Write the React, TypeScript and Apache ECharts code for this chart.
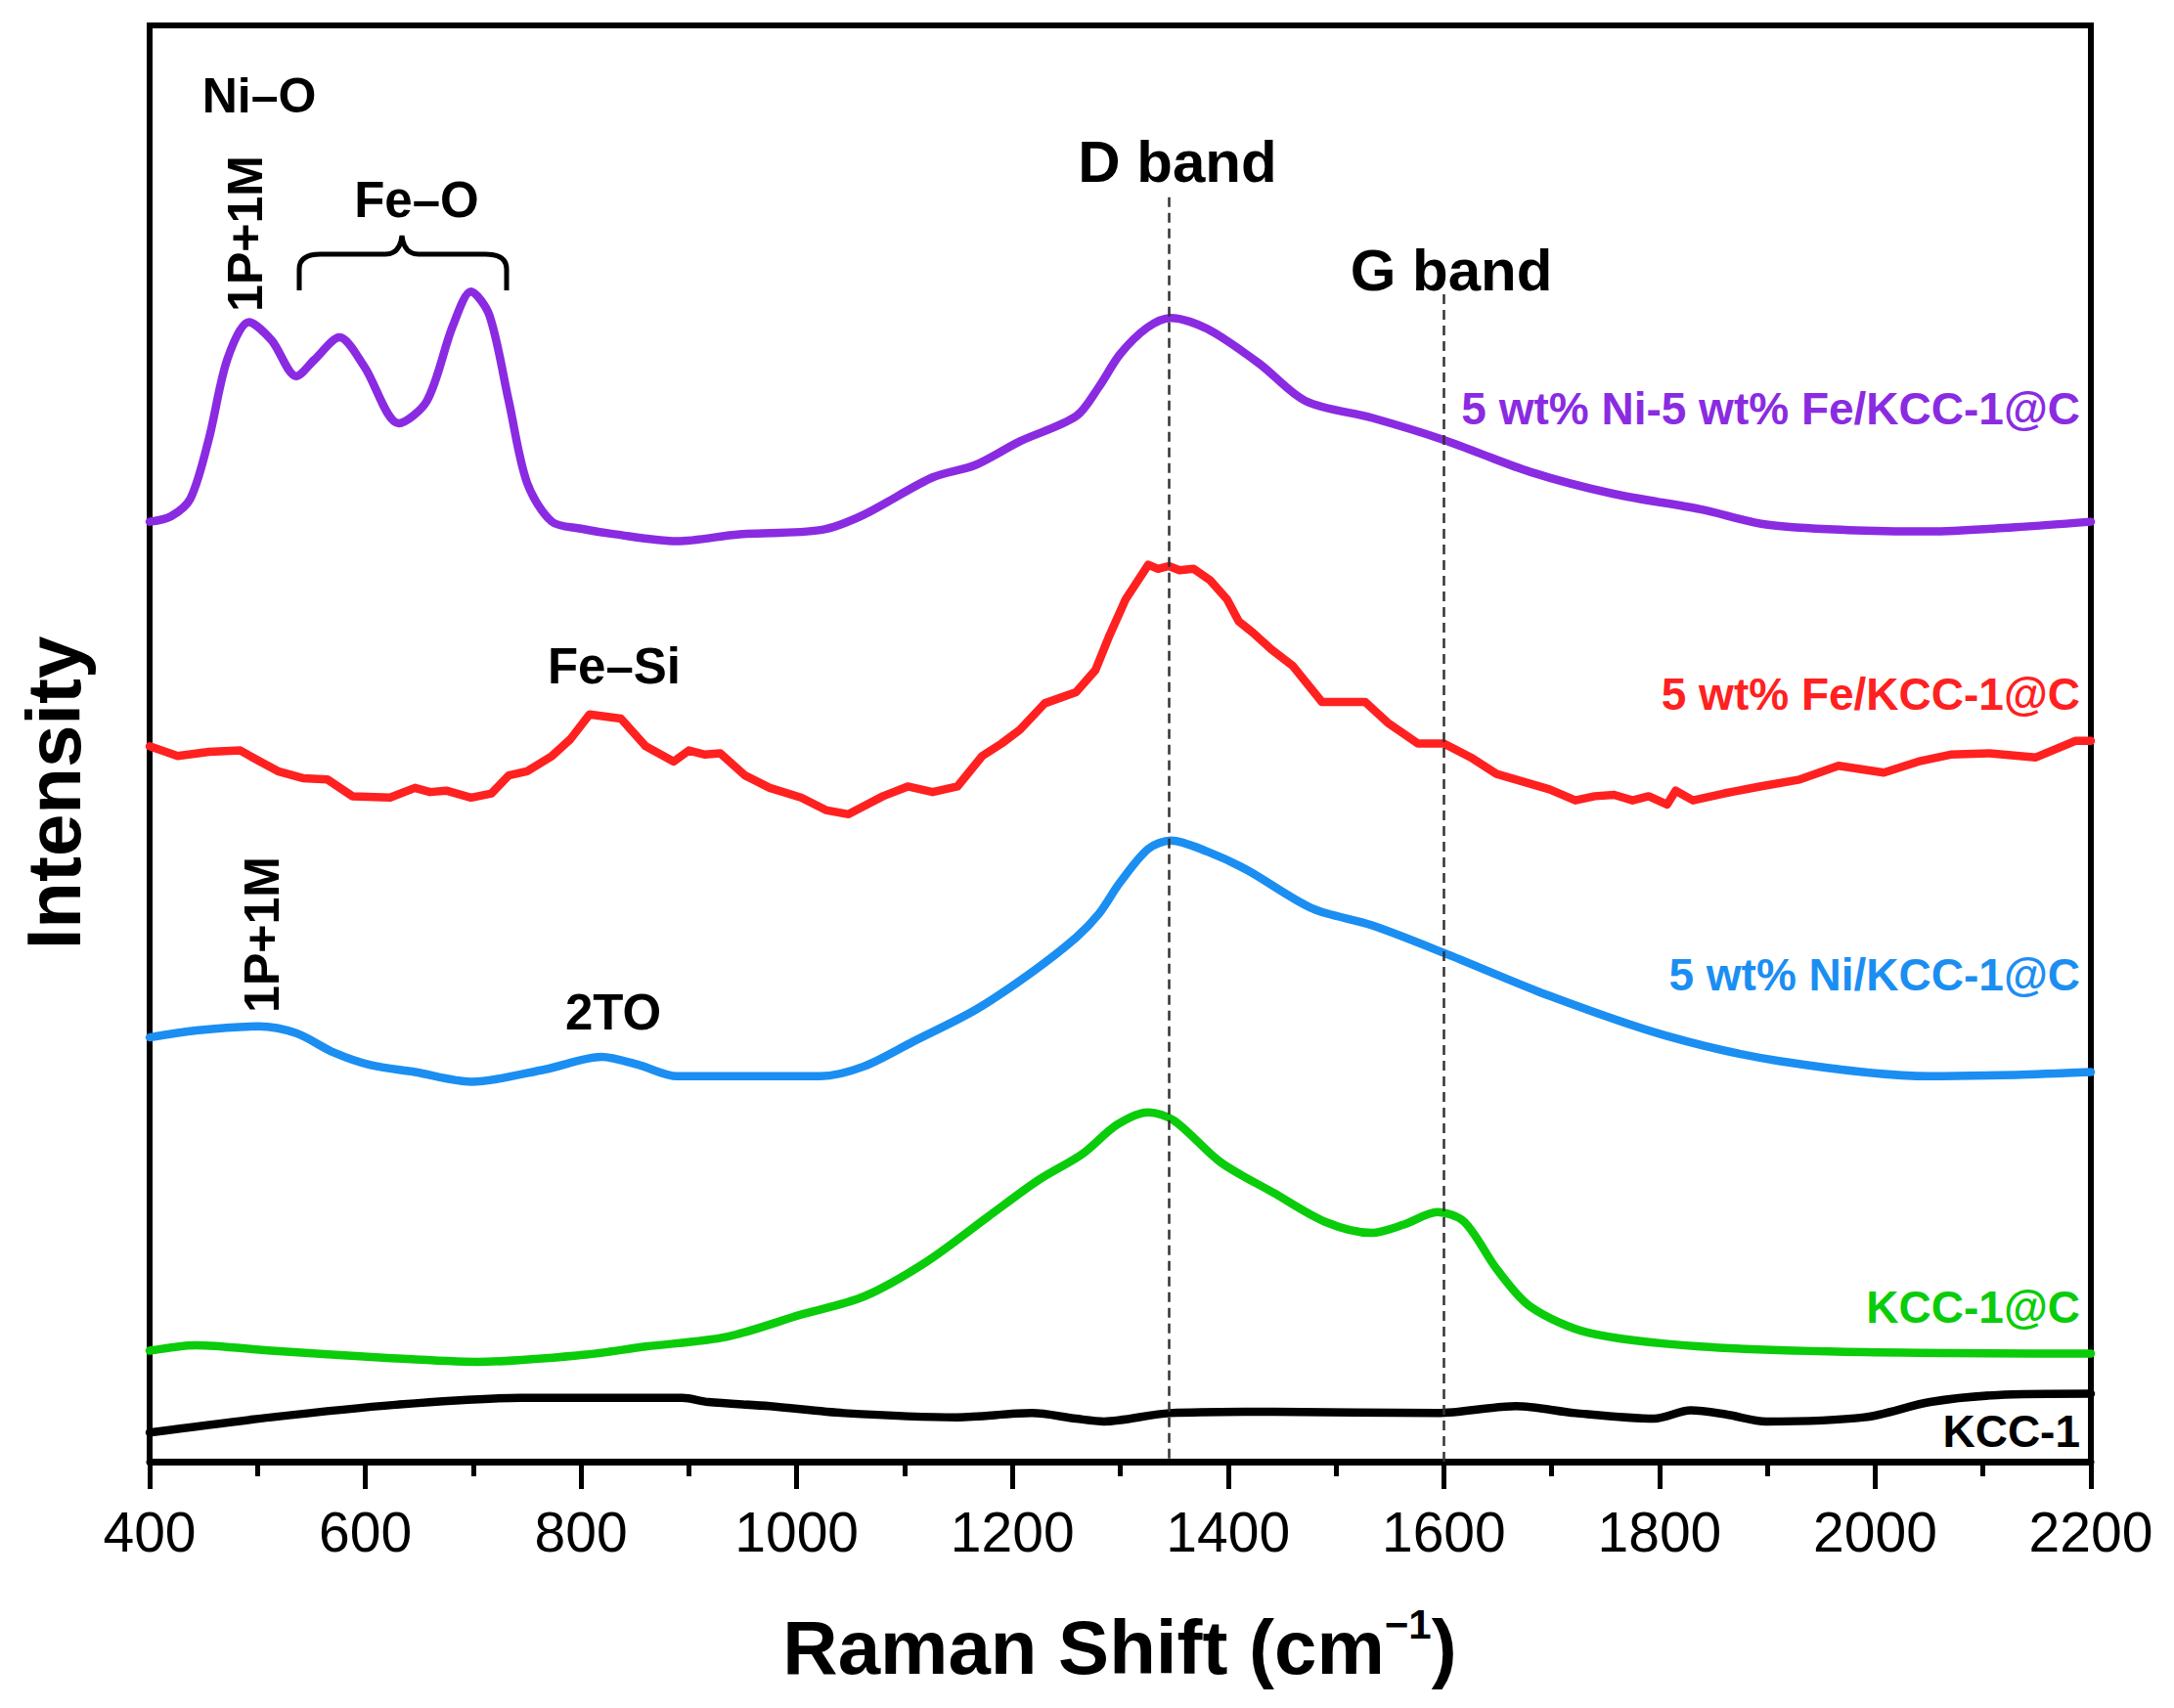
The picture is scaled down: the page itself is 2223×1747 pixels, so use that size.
import React, { useEffect, useRef } from "react";
import * as echarts from "echarts";

const FONT = "'Liberation Sans', Arial, sans-serif";

const seriesNames = [
  "5 wt% Ni-5 wt% Fe/KCC-1@C",
  "5 wt% Fe/KCC-1@C",
  "5 wt% Ni/KCC-1@C",
  "KCC-1@C",
  "KCC-1",
];
const seriesColors = ["#8A2BE2", "#FF2020", "#1B8EF2", "#0ACC0A", "#000000"];

// Raman shift (cm-1), intensity (a.u., stacked offsets)
const niFeData: [number, number][] = [
  [400, 678], [420, 682], [438, 695], [455, 738], [472, 795], [492, 822], [513, 809],
  [536, 783], [553, 795], [576, 811], [599, 790], [631, 749], [657, 765], [681, 819],
  [698, 844], [715, 827], [733, 765], [750, 706], [773, 678], [800, 673], [831, 669],
  [889, 664], [947, 669], [1022, 672], [1062, 683], [1126, 710], [1166, 719], [1207, 736],
  [1259, 754], [1280, 775], [1300, 799], [1325, 818], [1347, 825], [1381, 817], [1429, 792],
  [1472, 765], [1533, 753], [1600, 737], [1680, 714], [1758, 698], [1838, 687], [1899, 676],
  [1975, 672], [2051, 671], [2130, 674], [2200, 678],
];
const feData: [number, number][] = [
  [400, 516], [426, 509], [455, 512], [484, 513], [500, 506], [519, 498], [542, 493],
  [565, 492], [588, 480], [623, 479], [646, 486], [660, 483], [675, 484], [698, 479],
  [717, 482], [733, 495], [750, 498], [773, 509], [790, 521], [808, 539], [837, 536],
  [860, 516], [886, 505], [900, 513], [915, 510], [929, 511], [952, 495], [975, 486],
  [1004, 479], [1027, 470], [1048, 467], [1065, 474], [1080, 480], [1103, 487], [1126, 483],
  [1149, 487], [1172, 509], [1190, 518], [1207, 528], [1230, 547], [1259, 555], [1277, 571],
  [1290, 596], [1305, 622], [1326, 647], [1335, 644], [1345, 646], [1355, 643], [1368, 644],
  [1383, 636], [1399, 622], [1410, 606], [1423, 598], [1440, 586], [1460, 574], [1487, 548],
  [1527, 548], [1548, 533], [1576, 518], [1600, 518], [1625, 508], [1649, 496], [1698, 485],
  [1722, 477], [1740, 480], [1758, 481], [1775, 477], [1790, 480], [1807, 474], [1815, 484],
  [1831, 477], [1860, 482], [1893, 487], [1930, 492], [1966, 502], [2008, 497], [2040, 505],
  [2070, 510], [2106, 511], [2149, 508], [2186, 520], [2200, 520],
];
const niData: [number, number][] = [
  [400, 306], [443, 311], [501, 314], [536, 309], [571, 295], [605, 286], [646, 281],
  [698, 274], [767, 283], [819, 292], [854, 286], [889, 278], [958, 278], [1022, 278],
  [1062, 285], [1108, 303], [1166, 326], [1218, 353], [1259, 378], [1280, 395], [1300, 418],
  [1326, 442], [1347, 448], [1381, 440], [1417, 427], [1478, 399], [1533, 387], [1600, 367],
  [1698, 336], [1807, 307], [1911, 289], [2051, 278], [2130, 279], [2200, 281],
];
const carbonData: [number, number][] = [
  [400, 80], [443, 84], [513, 80], [617, 75], [704, 72], [802, 77], [860, 83], [935, 90],
  [1004, 106], [1062, 119], [1120, 144], [1178, 177], [1224, 203], [1265, 222], [1297, 243],
  [1326, 252], [1350, 246], [1393, 216], [1442, 194], [1490, 173], [1533, 165], [1563, 171],
  [1594, 180], [1619, 173], [1649, 139], [1680, 112], [1734, 93], [1838, 83], [1990, 79],
  [2200, 78],
];
const kccData: [number, number][] = [
  [400, 21], [513, 32], [628, 41], [744, 46], [894, 46], [918, 43], [975, 40], [1044, 35],
  [1149, 32], [1218, 35], [1259, 31], [1285, 29], [1346, 35], [1442, 36], [1594, 35],
  [1667, 40], [1722, 35], [1795, 31], [1829, 37], [1862, 34], [1899, 29], [1990, 32],
  [2051, 43], [2113, 48], [2200, 49],
];
const allData = [niFeData, feData, niData, carbonData, kccData];
const smoothness = [0.3, 0, 0.3, 0.3, 0.3];

const xTickMin = 400;
const xTickMax = 2200;
const xTickStep = 200;
const yMax = 1036;

const dBandX = 1345;
const gBandX = 1600;
const dLineTop = 912;
const gLineTop = 842;

const braceD =
  "M0,56 L0,34 Q0,19 22,19 L88,19 Q103,19 105,0 Q107,19 122,19 L190,19 Q212,19 212,34 L212,56";
try {
  echarts.graphic.registerShape("brace", echarts.graphic.extendPath(braceD, {}) as any);
} catch (e) {}

export default function App() {
  const ref = useRef<HTMLDivElement>(null);
  useEffect(() => {
    if (!ref.current) return;
    const chart = echarts.init(ref.current, null, { renderer: "svg" });
    const bold = (size: number, color = "#000") => ({
      fontSize: size,
      fontWeight: "bold",
      fontFamily: FONT,
      fill: color,
    });
    const series: any[] = allData.map((d, i) => ({
      type: "line",
      name: seriesNames[i],
      data: d,
      showSymbol: false,
      smooth: smoothness[i],
      lineStyle: { color: seriesColors[i], width: 8.5, cap: "round", join: "round" },
      z: 3,
    }));
    series[4].markLine = {
      silent: true,
      symbol: ["none", "none"],
      label: { show: false },
      lineStyle: { type: [10, 6], color: "#333", width: 2.5 },
      z: 5,
      data: [
        [{ coord: [dBandX, dLineTop] }, { coord: [dBandX, 0] }],
        [{ coord: [gBandX, gLineTop] }, { coord: [gBandX, 0] }],
      ],
    };
    const labelY = [418, 710, 997, 1337, 1464];
    const graphic: any[] = [
      {
        type: "text", x: 55, y: 811, rotation: Math.PI / 2,
        style: { text: "Intensity", ...bold(78), align: "center", verticalAlign: "middle" },
      },
      {
        type: "text", x: 1145, y: 1685,
        style: {
          text: "{a|Raman Shift (cm}{b|−1}{a|)}",
          align: "center", verticalAlign: "middle",
          rich: {
            a: { fontSize: 78, fontWeight: "bold", fontFamily: FONT, lineHeight: 90 },
            b: { fontSize: 42, fontWeight: "bold", fontFamily: FONT, lineHeight: 42, verticalAlign: "top" },
          },
        },
      },
      { type: "text", x: 265, y: 98, style: { text: "Ni–O", ...bold(50), align: "center", verticalAlign: "middle" } },
      { type: "text", x: 426, y: 204, style: { text: "Fe–O", ...bold(51), align: "center", verticalAlign: "middle" } },
      {
        type: "text", x: 251, y: 239, rotation: Math.PI / 2,
        style: { text: "1P+1M", ...bold(50), align: "center", verticalAlign: "middle" },
      },
      {
        type: "brace", x: 306, y: 241,
        style: { stroke: "#000", lineWidth: 5, fill: null },
      },
      { type: "text", x: 1204, y: 165, style: { text: "D band", ...bold(60), align: "center", verticalAlign: "middle" } },
      { type: "text", x: 1484, y: 276, style: { text: "G band", ...bold(60), align: "center", verticalAlign: "middle" } },
      { type: "text", x: 628, y: 681, style: { text: "Fe–Si", ...bold(51), align: "center", verticalAlign: "middle" } },
      { type: "text", x: 627, y: 1035, style: { text: "2TO", ...bold(51), align: "center", verticalAlign: "middle" } },
      {
        type: "text", x: 268, y: 956, rotation: Math.PI / 2,
        style: { text: "1P+1M", ...bold(50), align: "center", verticalAlign: "middle" },
      },
      ...seriesNames.map((n, i) => ({
        type: "text", x: 2127, y: labelY[i],
        style: { text: n, ...bold(46, seriesColors[i]), align: "right", verticalAlign: "middle" },
      })),
    ];
    chart.setOption({
      animation: false,
      backgroundColor: "#fff",
      grid: {
        left: 153, right: 85, top: 26, bottom: 252,
        show: true, borderColor: "#000", borderWidth: 6, backgroundColor: "transparent",
      },
      xAxis: {
        type: "value",
        min: xTickMin,
        max: xTickMax,
        interval: xTickStep,
        axisLine: { show: true, lineStyle: { color: "#000", width: 7 } },
        axisTick: { show: true, inside: false, length: 28, lineStyle: { color: "#000", width: 5 } },
        minorTick: { show: true, splitNumber: 2, length: 15, lineStyle: { color: "#000", width: 5 } },
        splitLine: { show: false },
        minorSplitLine: { show: false },
        axisLabel: {
          margin: 43, fontSize: 57, color: "#000", fontFamily: FONT,
          formatter: (v: number) => String(v),
        },
      },
      yAxis: {
        type: "value",
        min: 0,
        max: yMax,
        axisLine: { show: false },
        axisTick: { show: false },
        axisLabel: { show: false },
        splitLine: { show: false },
      },
      series,
      graphic,
    });
    return () => chart.dispose();
  }, []);
  return (
    <div
      ref={ref}
      style={{ position: "absolute", left: 0, top: 0, width: 2223, height: 1747, background: "#fff" }}
    />
  );
}
